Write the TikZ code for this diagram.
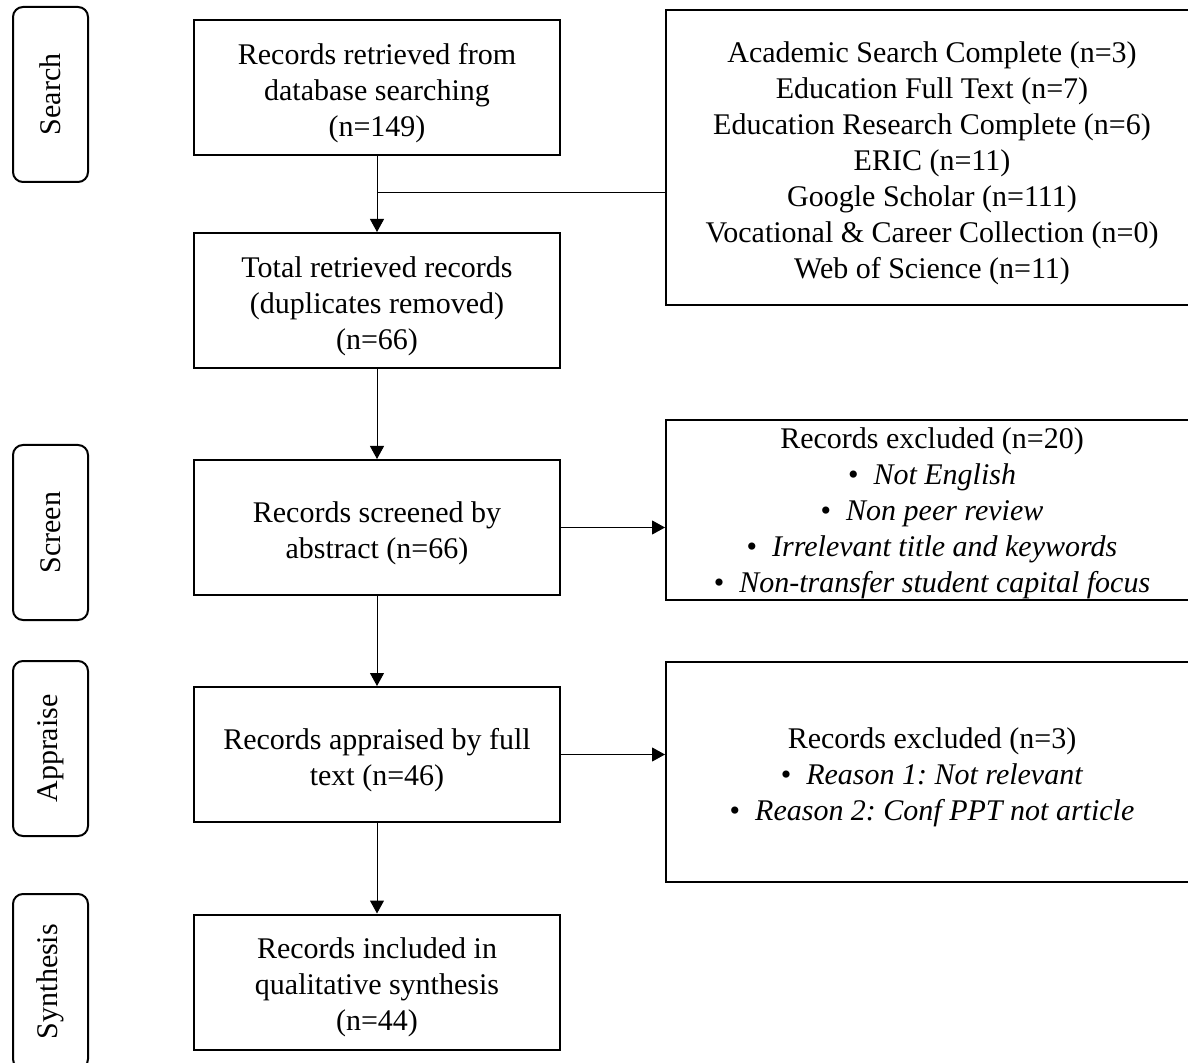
\documentclass[tikz,border=0pt]{standalone}
\usepackage{fontspec}
\setmainfont{Liberation Serif}
\usetikzlibrary{arrows.meta}
\frenchspacing
\newcommand{\firststrut}{\rule{0pt}{12.8pt}}
\begin{document}
\begin{tikzpicture}
        [x=0.5pt, y=-0.5pt,
        box/.style={rectangle, draw, line width=1pt, minimum width=183pt, minimum height=67.5pt, align=center, font=\fontsize{15}{18}\selectfont, text depth=0pt},
        sideBox/.style={rectangle, draw, line width=1pt, rounded corners=5pt, rotate=90, minimum width=87.5pt, minimum height=37.5pt, font=\fontsize{15}{18}\selectfont},
        listBox/.style={rectangle, draw, line width=1pt, minimum width=266pt, align=center, font=\fontsize{15}{18}\selectfont, text depth=0pt},
        arrow/.style={-{Triangle[length=6.5pt, width=7pt]}, line width=0.5pt}]
        \useasboundingbox (0,0) rectangle (1188,1063);

        % stages on the left
        \node[sideBox] (search) at (50.5,94.5) {Search};
        \node[sideBox] (screen) at (50.5,532.5) {Screen};
        \node[sideBox] (appraise) at (50.5,748.5) {Appraise};
        \node[sideBox] (synthesis) at (50.5,981.5) {Synthesis};

        % main column
        \node[box] (retrieved) at (377,87.5) {\firststrut Records retrieved from\\database searching\\(n=149)};
        \node[box] (total) at (377,300.5) {\firststrut Total retrieved records\\(duplicates removed)\\(n=66)};
        \node[box] (screened) at (377,527.5) {\firststrut Records screened by\\abstract (n=66)};
        \node[box] (appraised) at (377,754.5) {\firststrut Records appraised by full\\text (n=46)};
        \node[box] (included) at (377,982) {\firststrut Records included in\\qualitative synthesis\\(n=44)};

        % right column
        \node[listBox, minimum height=147.5pt] (sources) at (932,157.5) {\firststrut Academic Search Complete (n=3)\\Education Full Text (n=7)\\Education Research Complete (n=6)\\ERIC (n=11)\\Google Scholar (n=111)\\Vocational \& Career Collection (n=0)\\Web of Science (n=11)};
        \node[listBox, minimum height=90pt] (excludedA) at (932,510) {Records excluded (n=20)\\\textbullet\enspace\textit{Not English}\\\textbullet\enspace\textit{Non peer review}\\\textbullet\enspace\textit{Irrelevant title and keywords}\\\textbullet\enspace\textit{Non-transfer student capital focus}};
        \node[listBox, minimum height=110pt] (excludedB) at (932,772) {\firststrut Records excluded (n=3)\\\textbullet\enspace\textit{Reason 1: Not relevant}\\\textbullet\enspace\textit{Reason 2: Conf PPT not article}};

        \coordinate (join) at (377,193);

        \draw[arrow] (retrieved) -- (total);
        \draw[line width=0.5pt] (join) -- (join -| sources.west);
        \draw[arrow] (total) -- (screened);
        \draw[arrow] (screened) -- (appraised);
        \draw[arrow] (appraised) -- (included);
        \draw[arrow] (screened.east) -- (screened.east -| excludedA.west);
        \draw[arrow] (appraised.east) -- (appraised.east -| excludedB.west);
    \end{tikzpicture}
\end{document}
